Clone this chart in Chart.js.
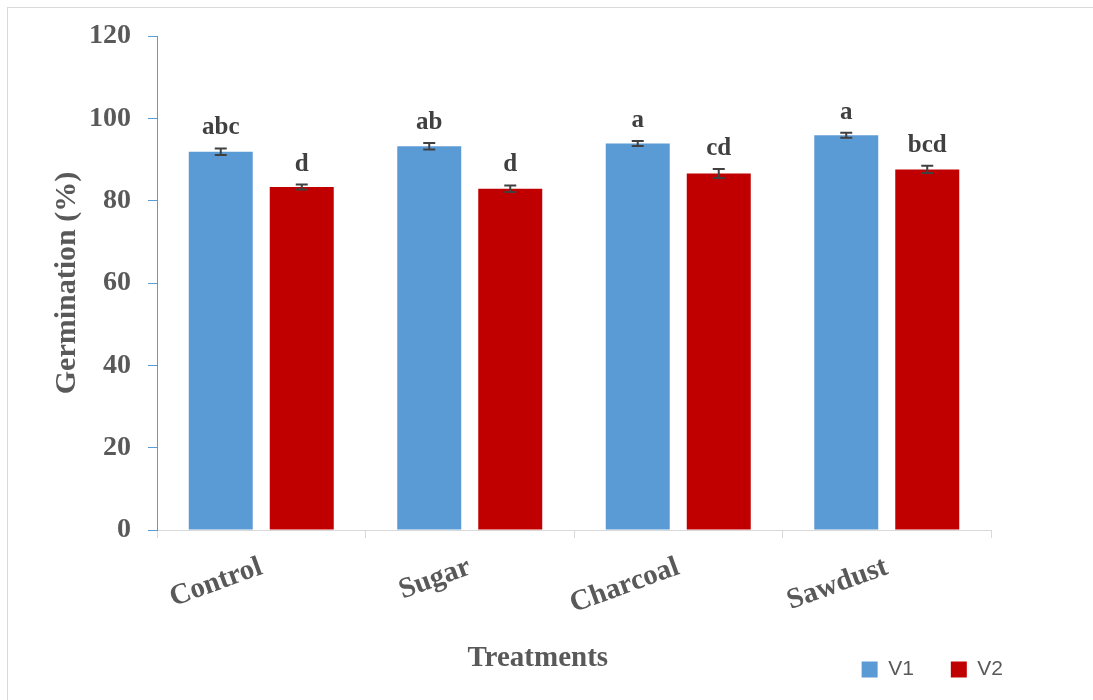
<!DOCTYPE html>
<html>
<head>
<meta charset="utf-8">
<title>Germination (%)</title>
<script src="https://cdn.jsdelivr.net/npm/chart.js@4"></script>
<style>
  body { margin: 0; background: #fff; overflow: hidden; }
  #wrap { position: relative; width: 1093px; height: 700px; }
  #frame { position: absolute; left: 7px; top: 7px; width: 1200px; height: 800px; border: 1px solid #d9d9d9; }
  canvas { position: absolute; left: 0; top: 0; }
</style>
</head>
<body>
<div id="wrap">
  <div id="frame"></div>
  <canvas id="chart" width="1093" height="700"></canvas>
</div>
<script>
// data
const categories = ['Control', 'Sugar', 'Charcoal', 'Sawdust'];
const v1 = [91.9, 93.2, 93.9, 95.9];
const v2 = [83.3, 82.9, 86.6, 87.6];
const v1Err = [0.8, 0.8, 0.6, 0.6];
const v2Err = [0.6, 0.8, 1.1, 0.9];
const v1Letters = ['abc', 'ab', 'a', 'a'];
const v2Letters = ['d', 'd', 'cd', 'bcd'];
const yTicks = [0, 20, 40, 60, 80, 100, 120];

const serif = "'Liberation Serif', 'Times New Roman', serif";

// error bars plus the letters above them
const errorBars = {
  id: 'errorBars',
  afterDatasetsDraw(chart) {
    const ctx = chart.ctx;
    const y = chart.scales.y;
    chart.data.datasets.forEach((ds, i) => {
      const meta = chart.getDatasetMeta(i);
      meta.data.forEach((bar, j) => {
        const top = y.getPixelForValue(ds.data[j] + ds.err[j]);
        const bot = y.getPixelForValue(ds.data[j] - ds.err[j]);
        ctx.save();
        ctx.strokeStyle = '#404040';
        ctx.lineWidth = 2;
        ctx.beginPath();
        ctx.moveTo(bar.x, top);
        ctx.lineTo(bar.x, bot);
        ctx.moveTo(bar.x - 6, top);
        ctx.lineTo(bar.x + 6, top);
        ctx.moveTo(bar.x - 6, bot);
        ctx.lineTo(bar.x + 6, bot);
        ctx.stroke();
        ctx.fillStyle = '#404040';
        ctx.font = 'bold 25px ' + serif;
        ctx.textAlign = 'center';
        ctx.textBaseline = 'alphabetic';
        ctx.fillText(ds.letters[j], bar.x, top - 14);
        ctx.restore();
      });
    });
  }
};

// move the legend to the right, like the original
const legendShift = {
  id: 'legendShift',
  afterLayout(chart) {
    chart.legend.left += 49;
    chart.legend.right += 49;
  }
};

new Chart(document.getElementById('chart'), {
  type: 'bar',
  data: {
    labels: categories,
    datasets: [
      { label: 'V1', data: v1, err: v1Err, letters: v1Letters, backgroundColor: '#5B9BD5',
        categoryPercentage: 0.777, barPercentage: 0.79 },
      { label: 'V2', data: v2, err: v2Err, letters: v2Letters, backgroundColor: '#C00000',
        categoryPercentage: 0.777, barPercentage: 0.79 }
    ]
  },
  options: {
    responsive: false,
    animation: false,
    layout: { padding: { left: 0, right: 102, top: 36, bottom: 10 } },
    plugins: {
      tooltip: { enabled: false },
      legend: {
        position: 'bottom',
        align: 'end',
        labels: {
          boxWidth: 16, boxHeight: 16, padding: 37,
          color: '#595959',
          font: { family: "'Liberation Sans', Arial, sans-serif", size: 21 }
        }
      }
    },
    scales: {
      x: {
        afterFit(scale) { scale.height = 92; },
        border: { color: '#D9D9D9', width: 1 },
        grid: { drawOnChartArea: false, color: '#D9D9D9', tickLength: 8 },
        ticks: {
          minRotation: 20, maxRotation: 20, padding: 12,
          color: '#595959',
          font: { family: serif, size: 29, weight: 'bold' }
        },
        title: {
          display: true,
          text: 'Treatments\u00A0\u00A0\u00A0\u00A0\u00A0\u00A0\u00A0\u00A0\u00A0\u00A0',
          color: '#595959',
          font: { family: serif, size: 29, weight: 'bold' },
          padding: { top: 0, bottom: -54 }
        }
      },
      y: {
        min: 0, max: 120,
        afterFit(scale) { scale.width = 157; },
        afterBuildTicks(scale) { scale.ticks = yTicks.map(v => ({ value: v })); },
        border: { color: '#5B9BD5', width: 1 },
        grid: { drawOnChartArea: false, color: '#5B9BD5', tickLength: 9 },
        ticks: {
          padding: 17, color: '#595959',
          font: { family: serif, size: 28, weight: 'bold' }
        },
        title: {
          display: true, text: 'Germination (%)', color: '#595959',
          font: { family: serif, size: 30, weight: 'bold' },
          padding: { top: 49, bottom: 0 }
        }
      }
    }
  },
  plugins: [errorBars, legendShift]
});
</script>
</body>
</html>
